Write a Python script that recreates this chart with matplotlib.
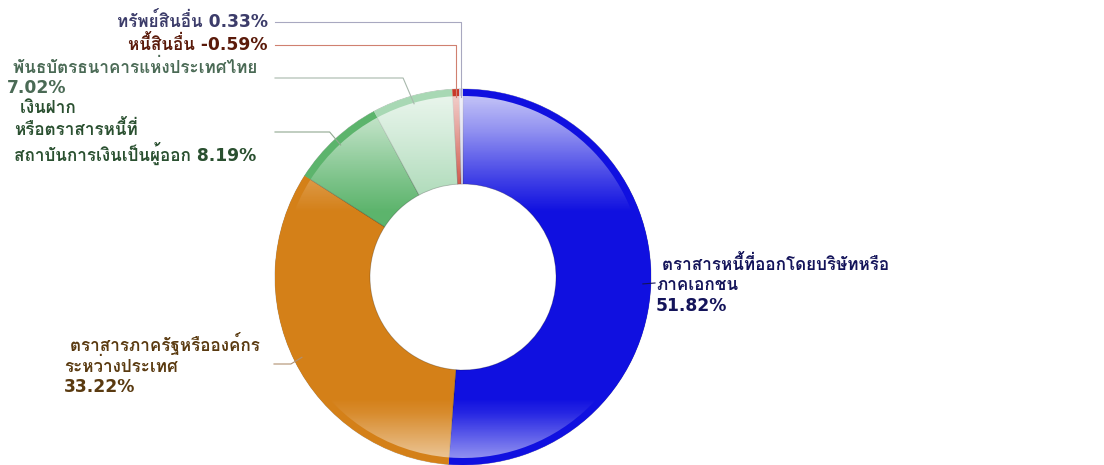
import numpy as np
import matplotlib.pyplot as plt
from matplotlib.patches import Wedge

W, H = 1104, 465

# DejaVu for latin/digits, Loma for Thai (it stacks tone marks without shaping)
plt.rcParams["font.family"] = ["DejaVu Sans", "Loma", "IBM Plex Sans Thai Looped"]

# data, clockwise from 12 o'clock
names = [
    " ตราสารหนี้ที่ออกโดยบริษัทหรือ\nภาคเอกชน",
    " ตราสารภาครัฐหรือองค์กร\nระหว่างประเทศ",
    " เงินฝาก\nหรือตราสารหนี้ที่\nสถาบันการเงินเป็นผู้ออก",
    " พันธบัตรธนาคารแห่งประเทศไทย",
    "หนี้สินอื่น",
    "ทรัพย์สินอื่น",
]
values = [51.82, 33.22, 8.19, 7.02, -0.59, 0.33]
pct_sep = ["\n", "\n", " ", "\n", " ", " "]

base_colors = ["#1010E0", "#D48018", "#5CB46C", "#A8D8B4", "#C83828", "#C8C8E8"]
text_colors = ["#14145A", "#5A3A10", "#2A5030", "#4A6A55", "#5A1A0A", "#3C3C6A"]
line_colors = ["#14145A", "#B09070", "#90A890", "#A8B8AC", "#D08070", "#A8A8C0"]

# label layout in pixel coords (x, y of block centre, alignment)
label_pos = [(656, 285, "left"), (64, 364, "left"), (14, 132, "left"),
             (7, 78, "left"), (268, 45, "right"), (268, 22, "right")]
line_start_x = [655, 274, 275, 275, 275, 275]

CX, CY = 463, H - 277
R, R_IN, RIM = 188, 93, 7

fig = plt.figure(figsize=(W / 100, H / 100), dpi=100)
ax = fig.add_axes([0, 0, 1, 1])

sizes = np.abs(values)
wedges, _ = ax.pie(sizes, startangle=90, counterclock=False, radius=R, center=(CX, CY),
                   colors=base_colors,
                   wedgeprops=dict(width=R - R_IN, edgecolor=(0, 0, 0, 0.25), linewidth=0.6))

# glossy highlight: white overlay fading from top and bottom
ys = np.arange(H)
alpha = np.interp(ys, [89, 93, 130, 180, 212], [0.8, 0.77, 0.55, 0.2, 0.0])
alpha += np.interp(ys, [398, 413, 433, 453, 465], [0.0, 0.1, 0.3, 0.5, 0.6])
img = np.ones((H, 2, 4))
img[:, :, 3] = alpha[:, None]
ring = Wedge((CX, CY), R, 0, 360, width=R - R_IN, transform=ax.transData)
im = ax.imshow(img, extent=(CX - R, CX + R, 0, H), origin="upper", aspect="auto",
               interpolation="bilinear", zorder=2)
im.set_clip_path(ring)

# darker outer rim
rim, _ = ax.pie(sizes, startangle=90, counterclock=False, radius=R, center=(CX, CY),
                colors=base_colors, wedgeprops=dict(width=RIM, linewidth=0))
for w in rim:
    w.set_zorder(3)

# labels and leader lines
for i, w in enumerate(wedges):
    mid = np.deg2rad((w.theta1 + w.theta2) / 2)
    ax_x = CX + 180 * np.cos(mid)
    ax_y = CY + 180 * np.sin(mid)
    lx, ly, ha = label_pos[i]
    ly = H - ly
    sx = line_start_x[i]
    if i == 0:
        xs, yv = [ax_x, sx], [ax_y, ly + 2]
    elif i >= 4:
        xs, yv = [ax_x, ax_x, sx], [ax_y, ly, ly]
    else:
        ex = ax_x - 11
        xs, yv = [ax_x, ex, sx], [ax_y, ly, ly]
    ax.plot(xs, yv, color=line_colors[i], lw=0.8, zorder=4)
    txt = f"{names[i]}{pct_sep[i]}{values[i]:.2f}%"
    ax.text(lx, ly, txt, ha=ha, va="center", multialignment="left",
            fontsize=12.3, fontweight="bold", color=text_colors[i], linespacing=1.2)

ax.set_xlim(0, W)
ax.set_ylim(0, H)
ax.set_aspect("auto")
ax.axis("off")

fig.savefig("out.png", dpi=100)
